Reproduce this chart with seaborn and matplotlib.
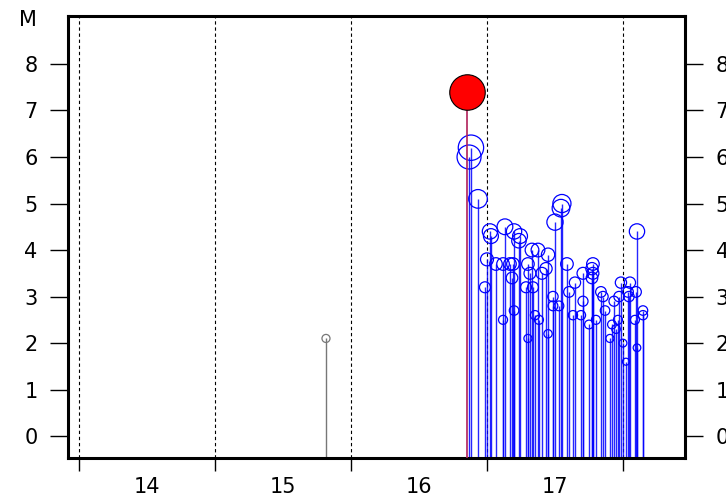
import seaborn as sns
import matplotlib.pyplot as plt
import pandas as pd
import numpy as np

# Event times (day of month) and magnitudes
main_day = [16.853]
main_mag = [7.4]

fore_day = [15.816]
fore_mag = [2.1]

after_day = [16.882, 16.868, 16.934, 16.985, 17.000, 17.022, 17.029, 17.066,
             17.118, 17.118, 17.132, 17.169, 17.184, 17.191, 17.199, 17.199,
             17.235, 17.243, 17.287, 17.301, 17.301, 17.316, 17.331, 17.338,
             17.353, 17.375, 17.382, 17.404, 17.434, 17.449, 17.449, 17.485,
             17.485, 17.500, 17.529, 17.544, 17.551, 17.588, 17.603, 17.632,
             17.647, 17.691, 17.706, 17.706, 17.750, 17.772, 17.779, 17.779,
             17.772, 17.801, 17.838, 17.853, 17.868, 17.904, 17.919, 17.934,
             17.949, 17.963, 17.985, 17.971, 18.000, 18.022, 18.037, 18.051,
             18.044, 18.088, 18.096, 18.103, 18.103, 18.147, 18.147]
after_mag = [6.2, 6.0, 5.1, 3.2, 3.8, 4.4, 4.3, 3.7,
             2.5, 3.7, 4.5, 3.7, 3.4, 3.7, 2.7, 4.4,
             4.2, 4.3, 3.2, 3.7, 2.1, 3.5, 4.0, 3.2,
             2.6, 4.0, 2.5, 3.5, 3.6, 3.9, 2.2, 3.0,
             2.8, 4.6, 2.8, 4.9, 5.0, 3.7, 3.1, 2.6,
             3.3, 2.6, 2.9, 3.5, 2.4, 3.6, 3.7, 3.5,
             3.4, 2.5, 3.1, 3.0, 2.7, 2.1, 2.4, 2.9,
             2.3, 2.5, 3.3, 3.0, 2.0, 1.6, 3.1, 3.3,
             3.0, 2.5, 3.1, 1.9, 4.4, 2.7, 2.6]

day_bounds = [14, 15, 16, 17, 18]
day_labels = ["14", "15", "16", "17"]
mag_ticks = list(range(0, 9))

YMIN, YMAX = -0.47, 9.03
XMIN, XMAX = 13.919, 18.456


def marker_area(m):
    d_px = 9 * np.exp(0.28 * (np.asarray(m) - 2.5))
    return (d_px * 0.72) ** 2


sns.set_style("white")
plt.rcParams['font.family'] = ['DejaVu Sans']
plt.rcParams['text.color'] = 'black'
plt.rcParams['xtick.color'] = 'black'
plt.rcParams['ytick.color'] = 'black'

fig = plt.figure(figsize=(7.26, 5.01), dpi=100)
ax = fig.add_axes([0.0937, 0.0858, 0.8498, 0.8822])

for d in day_bounds:
    ax.axvline(d, color="black", lw=0.8, ls=(0, (3, 2.5)), zorder=0)

# stems
ax.vlines(after_day, YMIN, after_mag, color="#0000ff", lw=1.0, alpha=0.85, zorder=1)
ax.vlines(fore_day, YMIN, fore_mag, color="#777777", lw=1.0, zorder=1)
ax.vlines(main_day, YMIN, main_mag, color="#b0205a", lw=1.2, zorder=3)

after = pd.DataFrame({"day": after_day, "mag": after_mag})
after["area"] = marker_area(after["mag"])
amin, amax = after["area"].min(), after["area"].max()
sns.scatterplot(data=after, x="day", y="mag", size="area", sizes=(amin, amax),
                size_norm=(amin, amax), facecolor="none", edgecolor="#0000ff",
                linewidth=0.9, legend=False, ax=ax, zorder=2)

fore = pd.DataFrame({"day": fore_day, "mag": fore_mag})
sns.scatterplot(data=fore, x="day", y="mag", s=float(marker_area(fore_mag)[0]),
                facecolor="none", edgecolor="#777777", linewidth=0.9,
                legend=False, ax=ax, zorder=2)

main = pd.DataFrame({"day": main_day, "mag": main_mag})
sns.scatterplot(data=main, x="day", y="mag", s=float(marker_area(main_mag)[0]),
                color="#ff0000", edgecolor="black", linewidth=0.8,
                legend=False, ax=ax, zorder=4)

ax.set_xlim(XMIN, XMAX)
ax.set_ylim(YMIN, YMAX)

ax.set_xticks(day_bounds)
ax.set_xticklabels([])
ax.set_xticks([d + 0.5 for d in day_bounds[:-1]], minor=True)
ax.set_xticklabels(day_labels, minor=True)
ax.tick_params(axis="x", which="major", direction="out", length=9, width=1, bottom=True)
ax.tick_params(axis="x", which="minor", length=0, pad=14, labelsize=15)

ax.set_yticks(mag_ticks)
ax.tick_params(axis="y", direction="out", length=13, width=1, left=True, right=True,
               labelleft=True, labelright=True, pad=9, labelsize=15)

for s in ax.spines.values():
    s.set_linewidth(2.2)
    s.set_color("black")

ax.set_xlabel("")
ax.set_ylabel("")
fig.text(28 / 726, 1 - 20 / 501, "M", ha="center", va="center", fontsize=15)

fig.savefig("out.png", dpi=100)
